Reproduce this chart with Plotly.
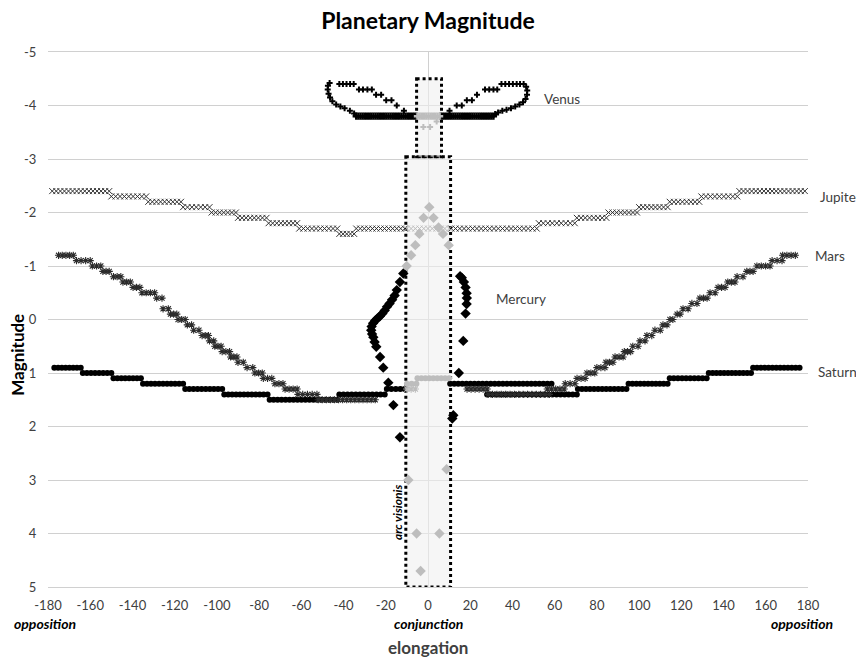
import numpy as np
import plotly.graph_objects as go

# ---------------- data ----------------
# Step-like series: runs of equal magnitude (start elongation, end elongation, magnitude)
JUP_START = [-178, -150, -132.5, -116, -102.5, -90, -75.5, -61, -42, -34, 11, 52.5, 70.5, 85.5, 100, 114.5, 129.5, 147.5]
JUP_END   = [-151, -133.5, -117, -103.5, -91, -76.5, -62, -43, -35, -11, 51.5, 69.5, 84.5, 99, 113.5, 128.5, 146.5, 178.5]
JUP_MAG   = [-2.4, -2.3, -2.2, -2.1, -2.0, -1.9, -1.8, -1.7, -1.6, -1.7, -1.7, -1.8, -1.9, -2.0, -2.1, -2.2, -2.3, -2.4]
JUP_HID_START, JUP_HID_END, JUP_HID_MAG = [-10], [10], [-1.7]

SAT_START = [-177, -163.5, -149, -135, -115, -96.5, -75, -42, -19.5, 10.5, 28, 71, 95, 114.5, 133, 154]
SAT_END   = [-164.5, -150, -136, -116, -97.5, -76, -43, -20.5, -11, 58.5, 70.5, 94, 113.5, 132, 153, 176]
SAT_MAG   = [0.9, 1.0, 1.1, 1.2, 1.3, 1.4, 1.5, 1.4, 1.3, 1.2, 1.4, 1.3, 1.2, 1.1, 1.0, 0.9]
SAT_HID_START, SAT_HID_END, SAT_HID_MAG = [-10, -5], [-5.5, 10], [1.2, 1.1]

MARS_START = [-175, -166.5, -159, -154, -149, -144.5, -139.7, -135.5, -128.5, -125.5, -122, -118.4, -114, -111,
              -107, -103.5, -101, -97.5, -93.5, -90, -85.7, -82, -78, -72.5, -67.7, -61.6, -52,
              18.5, 28.5, 56.5, 65, 70.6, 75.3, 80, 84.3, 88.6, 93, 97, 100.4, 103.7, 107.5, 111.3, 114.6,
              118, 120.8, 125, 128.8, 133.6, 137.4, 142, 146.4, 151, 155.8, 163, 168]
MARS_END   = [-168, -160, -155, -151, -145.5, -141, -136.5, -129.5, -126, -123, -119, -115, -112, -108.5,
              -104, -101.5, -98, -94, -90.5, -87.5, -83, -78.5, -74, -68.7, -62, -52.6, -25,
              28, 57.5, 64.5, 69.6, 74.4, 79, 83.8, 87.6, 92.4, 96, 99.5, 102.8, 106, 110, 113.2, 116,
              119.4, 123.2, 127.4, 132.2, 136, 140.7, 145.4, 149.2, 154, 162, 167.7, 174]
MARS_MAG   = [-1.2, -1.1, -1.0, -0.9, -0.8, -0.7, -0.6, -0.5, -0.4, -0.2, -0.1, 0.0, 0.1, 0.2,
              0.3, 0.4, 0.5, 0.6, 0.7, 0.8, 0.9, 1.0, 1.1, 1.2, 1.3, 1.4, 1.5,
              1.3, 1.4, 1.3, 1.2, 1.1, 1.0, 0.9, 0.8, 0.7, 0.6, 0.5, 0.4, 0.3, 0.2, 0.1, 0.0,
              -0.1, -0.2, -0.3, -0.4, -0.5, -0.6, -0.7, -0.8, -0.9, -1.0, -1.1, -1.2]
MARS_HID_START, MARS_HID_END, MARS_HID_MAG = [-10], [-6], [1.3]

VEN_LOW_START, VEN_LOW_END, VEN_LOW_MAG = [-34, 6], [-5.5, 31], [-3.8, -3.8]
VEN_HID_LOW_START, VEN_HID_LOW_END, VEN_HID_LOW_MAG = [-5], [5.5], [-3.8]

# Individual points
VEN_ELONG = [-35, -37, -39.5, -41.5, -43.5, -45.3, -46.4, -47.1, -47.5, -47.4, -46.6,
             -42, -40.3, -38.6, -36.9, -35.2, -32.7, -30.8, -28.7, -26.6, -24.6, -22.2, -19.8, -17.3, -14.8, -11.4,
             10.2, 13.6, 16, 18.4, 20.8, 23.2, 27, 29, 31, 32.8, 34.8, 36.6, 38.4, 40.2, 42, 43.6,
             45.3, 46.5, 47, 46.9, 46.2, 45, 43.3, 41.3, 39.3, 37.2, 35.2, 33.2, 31.8]
VEN_MAG   = [-3.85, -3.9, -3.95, -3.98, -4.02, -4.08, -4.15, -4.22, -4.3, -4.37, -4.42,
             -4.4, -4.4, -4.4, -4.4, -4.4, -4.3, -4.3, -4.3, -4.3, -4.2, -4.2, -4.1, -4.1, -4.0, -3.9,
             -3.9, -4.0, -4.0, -4.1, -4.1, -4.2, -4.3, -4.3, -4.3, -4.3, -4.4, -4.4, -4.4, -4.4, -4.4, -4.4,
             -4.4, -4.35, -4.28, -4.2, -4.12, -4.06, -4.02, -3.98, -3.95, -3.92, -3.9, -3.87, -3.84]
VEN_HID_ELONG = [-2.2, 1.0, 4.1]
VEN_HID_MAG   = [-3.6, -3.6, -3.7]

MER_ELONG = [-11.7, -13.3, -14.8, -15.8, -17.0, -18.2, -19.4, -20.5, -21.6, -22.8, -24.0, -25.0, -26.0,
             -26.7, -26.9, -26.5, -25.9, -25.3, -24.5, -22.7, -21.2, -18.8, -16.4, -13.3,
             11.5, 12.0, 14.6, 16.7, 17.8, 18.3, 18.4, 18.3, 17.8, 17.0, 16.0, 15.2]
MER_MAG   = [-0.86, -0.7, -0.55, -0.45, -0.37, -0.3, -0.24, -0.17, -0.11, -0.06, -0.02, 0.02, 0.07,
             0.13, 0.2, 0.27, 0.33, 0.42, 0.51, 0.7, 0.9, 1.18, 1.6, 2.2,
             1.85, 1.79, 1.0, 0.4, -0.11, -0.29, -0.4, -0.49, -0.6, -0.7, -0.78, -0.81]
MER_HID_ELONG = [-10.1, -8.0, -6.0, -4.1, -2.1, 0.6, 2.6, 5.0, 7.1, 9.8, -9.3, -5.4, -3.5, 5.4, 8.8]
MER_HID_MAG   = [-1.0, -1.2, -1.39, -1.6, -1.9, -2.1, -1.9, -1.72, -1.6, -1.39, 3.0, 4.0, 4.7, 4.0, 2.8]

X_TICKS = list(range(-180, 181, 20))
Y_TICKS = list(range(-5, 6, 1))


def runs(starts, ends, mags, step):
    xs, ys = [], []
    for a, b, m in zip(starts, ends, mags):
        n = max(1, int(round((b - a) / step)) + 1)
        xs.extend(np.linspace(a, b, n).tolist())
        ys.extend([m] * n)
    return xs, ys


BLACK = "#000000"
HID = "#bdbdbd"
fig = go.Figure()


def add(x, y, symbol, size, color, lw=0, lc=None):
    mk = dict(symbol=symbol, size=size, color=color)
    if lw:
        mk["line"] = dict(width=lw, color=lc or color)
    else:
        mk["line"] = dict(width=0)
    fig.add_trace(go.Scatter(x=x, y=y, mode="markers", marker=mk, showlegend=False, hoverinfo="x+y"))


# Saturn
x, y = runs(SAT_START, SAT_END, SAT_MAG, 1.9)
add(x, y, "circle", 6, BLACK)
# Mars
x, y = runs(MARS_START, MARS_END, MARS_MAG, 2.0)
add(x, y, "asterisk", 6, "#2b2b2b", 1.1, "#2b2b2b")
# Jupiter
x, y = runs(JUP_START, JUP_END, JUP_MAG, 2.0)
add(x, y, "x-thin", 6, "#333333", 1, "#333333")
# Mercury
add(MER_ELONG, MER_MAG, "diamond", 8, BLACK)
# Venus
x, y = runs(VEN_LOW_START, VEN_LOW_END, VEN_LOW_MAG, 1.0)
add(x, y, "cross", 6, BLACK)
add(VEN_ELONG, VEN_MAG, "cross", 5, BLACK)

# invisible (within arc visionis) in light grey
x, y = runs(SAT_HID_START, SAT_HID_END, SAT_HID_MAG, 1.9)
add(x, y, "circle", 6, HID)
x, y = runs(MARS_HID_START, MARS_HID_END, MARS_HID_MAG, 2.0)
add(x, y, "asterisk", 6, HID, 1.1, HID)
x, y = runs(JUP_HID_START, JUP_HID_END, JUP_HID_MAG, 2.0)
add(x, y, "x-thin", 6, HID, 1, HID)
add(MER_HID_ELONG, MER_HID_MAG, "diamond", 8, HID)
x, y = runs(VEN_HID_LOW_START, VEN_HID_LOW_END, VEN_HID_LOW_MAG, 1.0)
add(x, y, "cross", 6, HID)
add(VEN_HID_ELONG, VEN_HID_MAG, "cross", 5, HID)

FONT = "Lato"
box = dict(type="rect", xref="x", yref="y", layer="between",
           line=dict(color="#000000", width=3, dash="dot"),
           fillcolor="rgba(240,240,240,0.6)")
fig.add_shape(x0=-10.5, x1=10.7, y0=-3.04, y1=5, **box)
fig.add_shape(x0=-5.4, x1=6.4, y0=-4.5, y1=-3.04, **box)

ann = []
lab = dict(showarrow=False, font=dict(family=FONT, size=13.5, color="#404040"), xanchor="left", yanchor="middle")
ann.append(dict(text="Venus", x=54, y=-4.13, xref="x", yref="y", **lab))
ann.append(dict(text="Mercury", x=31.3, y=-0.38, xref="x", yref="y", **lab))
ann.append(dict(text="Jupiter", x=1.0125, y=-2.29, xref="paper", yref="y", **lab))
ann.append(dict(text="Mars", x=1.0065, y=-1.18, xref="paper", yref="y", **lab))
ann.append(dict(text="Saturn", x=1.010, y=0.99, xref="paper", yref="y", **lab))
bi = dict(family=FONT, size=14, color="#000000")
cm = dict(xref="paper", yref="paper", showarrow=False, xanchor="center", yanchor="middle")
ann.append(dict(text="<b><i>opposition</i></b>", x=-0.004, y=-0.069, font=bi, **cm))
ann.append(dict(text="<b><i>conjunction</i></b>", x=0.5, y=-0.069, font=bi, **cm))
ann.append(dict(text="<b><i>opposition</i></b>", x=0.992, y=-0.069, font=bi, **cm))
ann.append(dict(text="<b>elongation</b>", x=0.5, y=-0.114, font=dict(family=FONT, size=17, color="#404040"), **cm))
ann.append(dict(text="<b>Magnitude</b>", x=-0.0395, y=0.434, textangle=-90,
                font=dict(family=FONT, size=17, color="#000000"), **cm))
ann.append(dict(text="<b><i>arc visionis</i></b>", x=-14.7, y=3.6, xref="x", yref="y", showarrow=False,
                xanchor="center", yanchor="middle", textangle=-90,
                font=dict(family=FONT, size=12, color="#000000")))

fig.update_layout(
    width=856, height=658,
    margin=dict(l=48, r=48, t=52, b=71, autoexpand=False),
    paper_bgcolor="white", plot_bgcolor="white",
    title=dict(text="<b>Planetary Magnitude</b>", x=0.5, xanchor="center", y=1 - 21 / 658, yanchor="middle",
               yref="container", font=dict(family=FONT, size=23, color="#000000")),
    font=dict(family=FONT),
    annotations=ann,
    xaxis=dict(range=[-180, 180], tickvals=X_TICKS, ticktext=[str(v) for v in X_TICKS],
               showgrid=False, zeroline=True, zerolinecolor="#d0d0d0", zerolinewidth=1,
               showline=True, mirror=True, linecolor="#d0d0d0", linewidth=1,
               ticks="outside", ticklen=6, tickcolor="rgba(0,0,0,0)",
               tickfont=dict(family=FONT, size=13, color="#404040")),
    yaxis=dict(range=[5, -5], tickvals=Y_TICKS, ticktext=[str(v) for v in Y_TICKS],
               showgrid=True, gridcolor="#d0d0d0", gridwidth=1, zeroline=False, showline=False,
               ticks="outside", ticklen=8, tickcolor="rgba(0,0,0,0)",
               tickfont=dict(family=FONT, size=13, color="#404040")),
)

# remove the browser's default 8px page margin so the 856x658 figure fills the window exactly
fig.write_html("out.html", config={"displayModeBar": False},
               post_script="document.body.style.margin='0';document.body.style.overflow='hidden';")
